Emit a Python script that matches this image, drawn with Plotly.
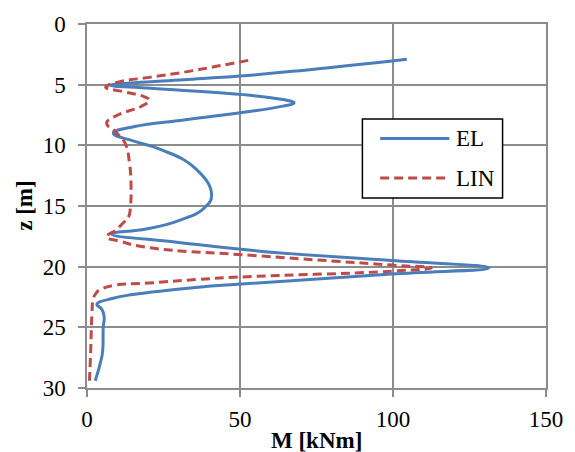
import plotly.graph_objects as go

# Bending moment M [kNm] along the depth z [m]
el_z = [2.9, 3.87, 4.29, 4.59, 4.84, 5.05, 5.3, 5.8, 6.23, 6.5, 6.77, 7.32, 7.91, 8.45, 9.0,
        9.68, 10.35, 11.9, 14.0, 15.1, 16.2, 16.9, 17.3, 18.0, 18.7, 19.5, 20.1, 20.6, 21.45,
        21.7, 22.3, 22.6, 23.1, 23.5, 24.1, 25.0, 27.0, 28.0, 29.4]
el_m = [104.5, 68.6, 50.0, 31.7, 15.6, 7.5, 20.9, 50.0, 64.0, 67.7, 64.0, 50.0, 31.7, 15.6, 8.6,
        15.6, 24.2, 35.4, 40.7, 38.6, 30.0, 19.3, 8.0, 30.0, 55.7, 99.7, 131.3, 99.7, 49.3,
        36.4, 15.0, 8.6, 3.2, 4.8, 5.6, 5.3, 5.1, 4.3, 2.7]

lin_z = [3.0, 3.49, 3.97, 4.38, 4.79, 5.2, 5.6, 6.0, 6.27, 6.8, 7.48, 8.17, 8.85, 9.8, 11.5,
         13.5, 15.0, 15.9, 16.4, 16.95, 17.55, 17.9, 18.4, 19.1, 19.87, 20.1, 20.37, 20.86,
         21.05, 21.35, 21.55, 21.9, 22.1, 22.6, 24.0, 27.0, 29.4]
lin_m = [52.7, 42.3, 31.7, 21.0, 10.1, 6.1, 12.4, 18.8, 20.4, 17.7, 10.2, 6.4, 9.1, 12.4, 13.9,
         14.4, 14.2, 13.6, 11.8, 9.6, 6.4, 10.7, 19.3, 55.7, 99.7, 112.5, 99.7, 49.3,
         36.4, 20.0, 8.6, 4.3, 3.2, 2.1, 1.6, 1.2, 0.8]

x_ticks = [0, 50, 100, 150]
y_ticks = [0, 5, 10, 15, 20, 25, 30]

BLUE = "#4a7ebb"
RED = "#be4b48"
GRID = "#8c8c8c"
FONT = "Liberation Serif"

fig = go.Figure()
fig.add_trace(go.Scatter(x=el_m, y=el_z, mode="lines", name="EL",
                         line=dict(color=BLUE, width=3, shape="spline", smoothing=1.3)))
fig.add_trace(go.Scatter(x=lin_m, y=lin_z, mode="lines", name="LIN",
                         line=dict(color=RED, width=3, dash="9px,5px", shape="spline", smoothing=1.3)))

W, H = 575, 452
L, R, T, B = 87, 23, 24, 64
pw, ph = W - L - R, H - T - B


def px(x):
    return (x - L) / pw


def py(y):
    return (H - B - y) / ph


axis_common = dict(showgrid=True, gridcolor=GRID, gridwidth=1.5, zeroline=False,
                   showline=True, linecolor=GRID, linewidth=1.5, mirror=True,
                   ticks="outside", ticklen=7, tickcolor=GRID, tickwidth=1.5,
                   tickfont=dict(family=FONT, size=23, color="black"))

fig.update_layout(
    width=W, height=H,
    margin=dict(l=L, r=R, t=T, b=B, pad=0),
    paper_bgcolor="white", plot_bgcolor="white",
    showlegend=False,
    font=dict(family=FONT),
    xaxis=dict(range=[0, 150], tickvals=x_ticks, ticklabelstandoff=3, **axis_common),
    yaxis=dict(range=[30, 0], tickvals=y_ticks, ticklabelstandoff=8, **axis_common),
)

# Axis titles
fig.add_annotation(text="<b>M [kNm]</b>", xref="paper", yref="paper", x=0.5, y=py(440),
                   xanchor="center", yanchor="middle", showarrow=False,
                   font=dict(family=FONT, size=23, color="black"))
fig.add_annotation(text="<b>z [m]</b>", xref="paper", yref="paper", x=px(23), y=py(206),
                   xanchor="center", yanchor="middle", showarrow=False, textangle=-90,
                   font=dict(family=FONT, size=23, color="black"))

# Legend box
fig.add_shape(type="rect", xref="paper", yref="paper", x0=px(366), x1=px(508), y0=py(198), y1=py(119),
              line=dict(color="black", width=1.5), fillcolor="white", layer="above")
fig.add_shape(type="line", xref="paper", yref="paper", x0=px(384), x1=px(454), y0=py(138.5), y1=py(138.5),
              line=dict(color=BLUE, width=3), layer="above")
fig.add_shape(type="line", xref="paper", yref="paper", x0=px(384), x1=px(454), y0=py(178), y1=py(178),
              line=dict(color=RED, width=3, dash="9px,5px"), layer="above")
for label, yy in (("EL", 138.5), ("LIN", 178)):
    fig.add_annotation(text=label, xref="paper", yref="paper", x=px(459), y=py(yy),
                       xanchor="left", yanchor="middle", showarrow=False,
                       font=dict(family=FONT, size=23, color="black"))

fig.write_html("out.html")
